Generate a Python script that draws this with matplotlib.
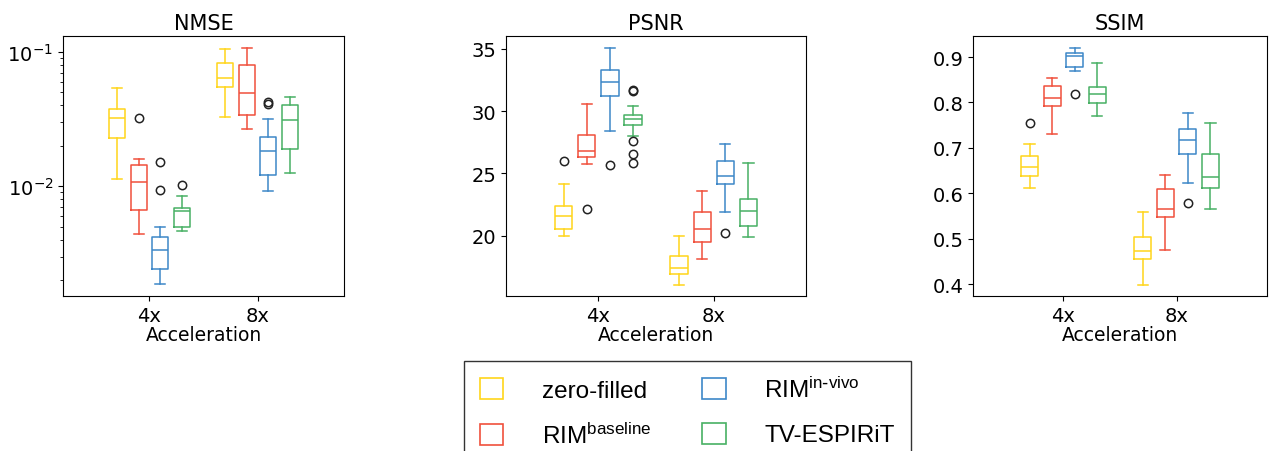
import matplotlib
matplotlib.use("Agg")
import matplotlib.pyplot as plt
from matplotlib.patches import Patch
import numpy as np

methods = ["zero-filled", r"RIM$^{baseline}$", r"RIM$^{in\text{-}vivo}$", "TV-ESPIRiT"]
colors = ["#FFD51A", "#F0503C", "#3D87C8", "#48B064"]
accelerations = ["4x", "8x"]

# box stats per metric: [acceleration][method] -> (whislo, q1, med, q3, whishi)
nmse_stats = [
    [(0.01134, 0.0227, 0.0322, 0.0373, 0.0534),
     (0.00443, 0.00664, 0.01071, 0.0144, 0.01596),
     (0.00187, 0.00243, 0.00337, 0.00423, 0.00502),
     (0.00466, 0.00502, 0.00652, 0.00686, 0.00848)],
    [(0.0327, 0.0546, 0.0634, 0.0819, 0.1047),
     (0.0265, 0.0340, 0.0493, 0.0791, 0.1071),
     (0.00918, 0.01213, 0.0184, 0.0231, 0.0316),
     (0.01256, 0.0189, 0.0309, 0.0402, 0.0464)],
]
nmse_fliers = [
    [[], [0.0322], [0.01508, 0.00945], [0.0103]],
    [[], [], [0.0426, 0.0407], []],
]

psnr_stats = [
    [(20.0, 20.56, 21.58, 22.38, 24.12),
     (25.73, 26.32, 26.83, 28.12, 30.58),
     (28.38, 31.22, 32.32, 33.29, 35.08),
     (27.98, 28.92, 29.35, 29.72, 30.37)],
    [(16.09, 16.95, 17.43, 18.39, 20.0),
     (18.12, 19.49, 20.59, 21.95, 23.56),
     (21.95, 24.12, 24.79, 26.0, 27.39),
     (19.92, 20.78, 22.03, 22.97, 25.81)],
]
psnr_fliers = [
    [[26.0], [22.17], [25.65], [31.73, 31.6, 27.61, 26.54, 25.87]],
    [[], [], [20.21], []],
]

ssim_stats = [
    [(0.6118, 0.6375, 0.658, 0.6816, 0.7096),
     (0.7316, 0.7926, 0.8096, 0.8368, 0.853),
     (0.8691, 0.8787, 0.9022, 0.9088, 0.9206),
     (0.7699, 0.7985, 0.8191, 0.8346, 0.8875)],
    [(0.3985, 0.4551, 0.4728, 0.5044, 0.5588),
     (0.475, 0.5478, 0.5647, 0.6103, 0.6404),
     (0.6235, 0.686, 0.7169, 0.7412, 0.7772),
     (0.5662, 0.611, 0.6353, 0.6875, 0.7559)],
]
ssim_fliers = [
    [[0.7559], [], [0.8176], []],
    [[], [], [0.578], []],
]

plt.rcParams["font.family"] = "DejaVu Sans"
plt.rcParams["mathtext.default"] = "regular"

fig = plt.figure(figsize=(12.69, 4.52), dpi=100)
W, H = 1269, 452

def add_ax(left, right, top=37, bottom=297):
    return fig.add_axes([left / W, 1 - bottom / H, (right - left) / W, (bottom - top) / H])

axes = [add_ax(63, 344), add_ax(506, 806), add_ax(973, 1267)]
titles = ["NMSE", "PSNR", "SSIM"]
all_stats = [nmse_stats, psnr_stats, ssim_stats]
all_fliers = [nmse_fliers, psnr_fliers, ssim_fliers]
ylims = [(0.00153, 0.131), (15.18, 36.02), (0.374, 0.9463)]
offsets = [-0.3, -0.1, 0.1, 0.3]

for ax, title, stats, fliers, yl in zip(axes, titles, all_stats, all_fliers, ylims):
    for gi, acc in enumerate(accelerations):
        for mi, col in enumerate(colors):
            lo, q1, med, q3, hi = stats[gi][mi]
            d = dict(whislo=lo, q1=q1, med=med, q3=q3, whishi=hi,
                     fliers=np.array(fliers[gi][mi]))
            lw = 1.1
            ax.bxp([d], positions=[gi + 1 + offsets[mi]], widths=0.15,
                   showfliers=True,
                   boxprops=dict(color=col, linewidth=lw),
                   whiskerprops=dict(color=col, linewidth=lw),
                   capprops=dict(color=col, linewidth=lw),
                   medianprops=dict(color=col, linewidth=lw),
                   flierprops=dict(marker="o", markerfacecolor="none",
                                   markeredgecolor="#222222", markersize=6,
                                   markeredgewidth=1.1),
                   capwidths=0.09, manage_ticks=False)
    if title == "NMSE":
        ax.set_yscale("log")
    ax.set_ylim(*yl)
    ax.set_xlim(0.2, 2.8)
    ax.set_xticks([1, 2])
    ax.set_xticklabels(accelerations)
    ax.set_title(title, fontsize=15, pad=5)
    ax.set_xlabel("Acceleration", fontsize=13.5, labelpad=0)
    ax.tick_params(labelsize=14)

axes[1].set_yticks([20, 25, 30, 35])
axes[2].set_yticks([0.4, 0.5, 0.6, 0.7, 0.8, 0.9])

handles = [Patch(facecolor="none", edgecolor=c, linewidth=1.2) for c in colors]
leg = fig.legend(handles, methods, loc="upper center", bbox_to_anchor=(687.5 / W, 1 - 362 / H),
                 ncol=2, prop={"family": "Liberation Sans", "size": 17.5},
                 handlelength=0.95, handleheight=0.95, handletextpad=1.6,
                 columnspacing=2.1, labelspacing=0.85, borderpad=0.65,
                 borderaxespad=0,
                 fancybox=False, framealpha=1, edgecolor="#333333")
leg.get_frame().set_linewidth(1.0)

fig.savefig("out.png", dpi=100)
